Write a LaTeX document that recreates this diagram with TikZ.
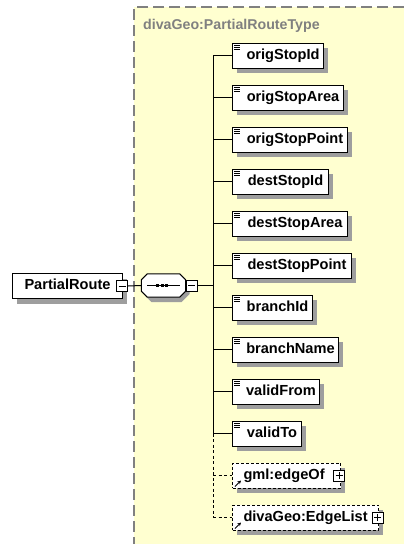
\documentclass[tikz,border=0pt]{standalone}
\usepackage{fontspec}
\setmainfont{Liberation Sans}
\usetikzlibrary{calc,arrows.meta}
\definecolor{bgy}{RGB}{255,255,208}
\definecolor{bord}{RGB}{128,128,128}
\definecolor{shadowtone}{RGB}{158,158,158}
\tikzset{
  elem/.style={draw=black, fill=white, line width=1pt, minimum height=25pt,
    inner xsep=7pt, inner ysep=0pt, anchor=west,
    font=\bfseries\fontsize{14.6}{16}\selectfont, text height=10.5pt, text depth=3pt},
  refelem/.style={elem, dash pattern=on 3pt off 2pt},
  btn/.style={draw=black, fill=white, line width=0.8pt, minimum size=11pt, inner sep=0pt},
  conn/.style={draw=black, line width=1pt},
  optconn/.style={conn, dash pattern=on 3pt off 2.5pt},
  icon/.style={draw=black, line width=0.8pt},
}
\begin{document}
\begin{tikzpicture}[x=1pt,y=-1pt]
\useasboundingbox (0,0) rectangle (404,544);
\fill[white] (0,0) rectangle (404,544);
\fill[bgy] (134,7) rectangle (404,544);
\draw[bord, line width=1.5pt, dash pattern=on 11pt off 5pt] (404,7) -- (134,7) -- (134,544);
\node[anchor=west, text=bord, inner sep=0pt, font=\bfseries\fontsize{14.2}{16}\selectfont] (title) at (143,26) {divaGeo:PartialRouteType};

% shadows (drawn first, under the boxes)
\fill[shadowtone] (17,278.5) rectangle (127,303.5);
\foreach \w [count=\k from 0] in {91,111,115,96,115,119,80,106,87,69,108,146}
  \fill[shadowtone] (237,55.5+42*\k-7.5) rectangle (232+\w+5,55.5+42*\k+17.5);
\fill[shadowtone] (151.5,278) -- (181.5,278) -- (189.5,286) -- (189.5,294) -- (181.5,302) -- (151.5,302) -- (145.5,296) -- cycle;

% root element
\node[elem, inner xsep=0pt, minimum width=110pt] (pr) at (12,286) {PartialRoute};
\node[btn] (prb) at ($(pr.east)+(-1,0)$) {};
\draw[icon] ($(prb.center)+(-3.5,0)$) -- ($(prb.center)+(3.5,0)$);

% sequence compositor
\node[minimum width=44pt, minimum height=23pt, inner sep=0pt] (seq) at (163.5,285.5) {};
\draw[fill=white, line width=1pt] ($(seq.north west)+(6,0)$) -- ($(seq.north east)+(-6,0)$) -- ($(seq.north east)+(0,6)$)
  -- ($(seq.south east)+(0,-6)$) -- ($(seq.south east)+(-6,0)$) -- ($(seq.south west)+(6,0)$)
  -- ($(seq.south west)+(0,-6)$) -- ($(seq.north west)+(0,6)$) -- cycle;
\draw[line width=1pt] ($(seq.west)+(6,0)$) -- ($(seq.east)+(-6,0)$);
\foreach \dx in {-6,-1.5,3} \fill ($(seq.center)+(\dx-1.5,-1.5)$) rectangle ++(3,3);
\node[btn] (seqb) at (191.5,285.5) {};
\draw[icon] ($(seqb.center)+(-3.5,0)$) -- ($(seqb.center)+(3.5,0)$);
\draw[conn] (prb.east) -- (seq.west);

% spine
\coordinate (spine) at (213,285.5);
\draw[conn] (seqb.east) -- (spine);

% child elements
\foreach \n/\w [count=\k from 0] in {origStopId/91,origStopArea/111,origStopPoint/115,destStopId/96,destStopArea/115,destStopPoint/119,branchId/80,branchName/106,validFrom/87,validTo/69}{
  \node[elem, inner xsep=0pt, minimum width=\w pt] (e\k) at (232,55.5+42*\k) {\hspace*{10pt}\n\hfill};
  \coordinate (s\k) at (213,55.5+42*\k);
  \draw[conn] (s\k) -- (e\k.west);
  \foreach \dy in {3,5,7}
    \draw[black, line width=0.8pt] ($(e\k.north west)+(2,\dy)$) -- ($(e\k.north west)+(8,\dy)$);
}
\node[refelem, inner xsep=0pt, minimum width=108pt, text width=108pt, align=left] (e10) at (232,475.5) {\hspace*{11pt}gml:edgeOf};
\node[refelem, inner xsep=0pt, minimum width=146pt, text width=146pt, align=left] (e11) at (232,517.5) {\hspace*{11pt}divaGeo:EdgeList};
\coordinate (s10) at (213,475.5);
\coordinate (s11) at (213,517.5);
\draw[conn] (s0) -- (s9);
\draw[optconn] (s9) -- (s11);
\draw[optconn] (s10) -- (e10.west);
\draw[optconn] (s11) -- (e11.west);
\foreach \k in {10,11}{
  \draw[black, line width=1pt, -{Stealth[length=3.5pt,width=3.5pt]}] ($(e\k.south west)+(3,-2)$) -- ($(e\k.south west)+(9,-8)$);
}
\node[btn] (b10) at ($(e10.east)+(-2,0)$) {};
\draw[icon] ($(b10.center)+(-3.5,0)$) -- ($(b10.center)+(3.5,0)$);
\draw[icon] ($(b10.center)+(0,-3.5)$) -- ($(b10.center)+(0,3.5)$);
\node[btn] (b11) at ($(e11.east)+(-1.5,0)$) {};
\draw[icon] ($(b11.center)+(-3.5,0)$) -- ($(b11.center)+(3.5,0)$);
\draw[icon] ($(b11.center)+(0,-3.5)$) -- ($(b11.center)+(0,3.5)$);
\end{tikzpicture}
\end{document}
